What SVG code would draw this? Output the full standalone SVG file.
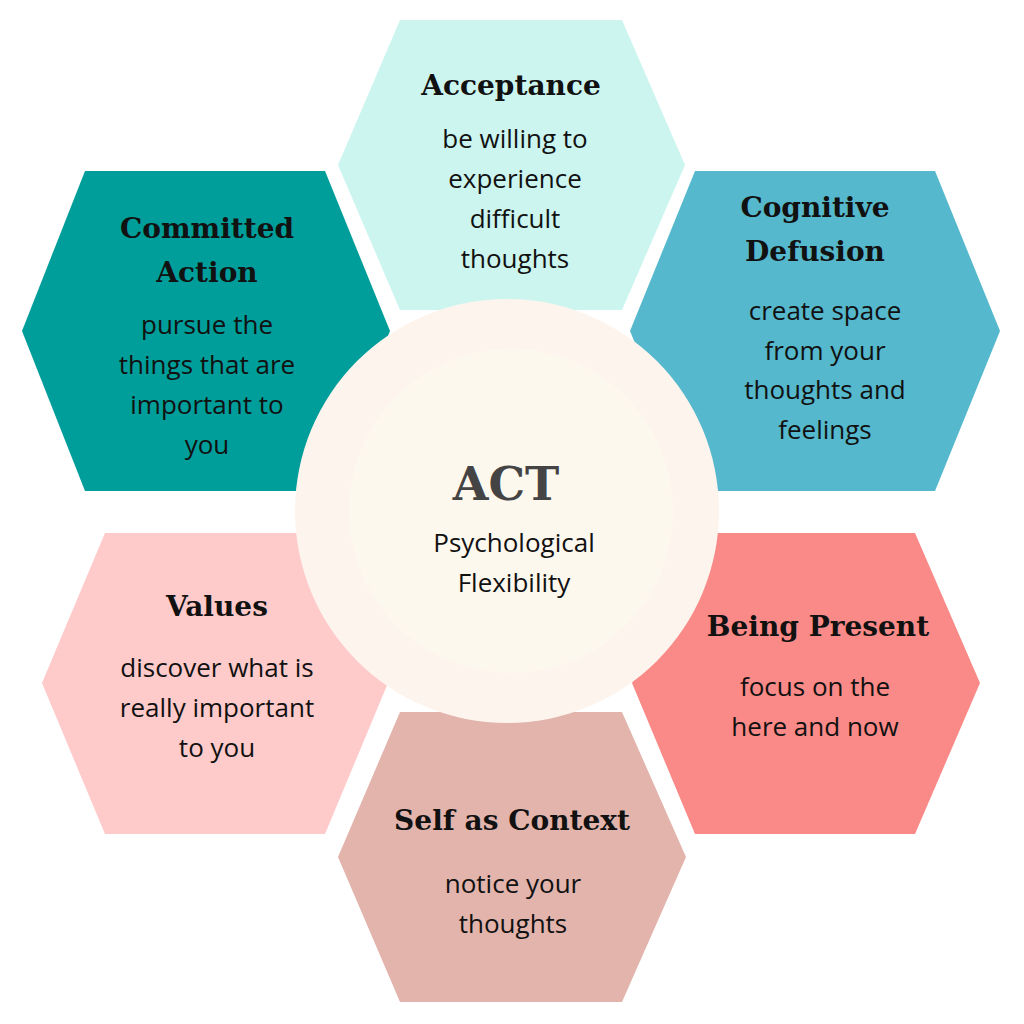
<svg xmlns="http://www.w3.org/2000/svg" width="1024" height="1024" viewBox="0 0 1024 1024">
<style>
.t{font-family:"DejaVu Serif","Liberation Serif",serif;font-weight:bold;font-size:28px;fill:#111;text-anchor:middle}
.b{font-family:"Open Sans","Noto Sans",sans-serif;font-size:26px;fill:#111;text-anchor:middle}
</style>
<rect width="1024" height="1024" fill="#fff"/>
<g id="acceptance"><polygon points="400,20 622,20 685,165 622,310 400,310 338,165" fill="#ccf5f0"/>
<text class="t" x="511" y="95">Acceptance</text>
<text class="b" x="515" y="148">be willing to</text><text class="b" x="515" y="188">experience</text><text class="b" x="515" y="228">difficult</text><text class="b" x="515" y="268">thoughts</text></g>
<g id="committed"><polygon points="85,171 325,171 390,331 325,491 85,491 22,331" fill="#009e9a"/>
<text class="t" x="207" y="238">Committed</text><text class="t" x="207" y="282">Action</text>
<text class="b" x="207" y="334">pursue the</text><text class="b" x="207" y="374">things that are</text><text class="b" x="207" y="414">important to</text><text class="b" x="207" y="454">you</text></g>
<g id="cognitive"><polygon points="695,171 935,171 1000,331 935,491 695,491 630,331" fill="#55b8cc"/>
<text class="t" x="815" y="217">Cognitive</text><text class="t" x="815" y="261">Defusion</text>
<text class="b" x="825" y="320">create space</text><text class="b" x="825" y="360">from your</text><text class="b" x="825" y="399">thoughts and</text><text class="b" x="825" y="439">feelings</text></g>
<g id="values"><polygon points="105,533 325,533 388,683 325,834 105,834 42,683" fill="#fecaca"/>
<text class="t" x="217" y="616">Values</text>
<text class="b" x="217" y="677">discover what is</text><text class="b" x="217" y="717">really important</text><text class="b" x="217" y="757">to you</text></g>
<g id="present"><polygon points="695,533 915,533 980,683 915,834 695,834 632,683" fill="#f98a87"/>
<text class="t" x="818" y="636">Being Present</text>
<text class="b" x="815" y="696">focus on the</text><text class="b" x="815" y="736">here and now</text></g>
<g id="self"><polygon points="400,712 622,712 686,857 622,1002 400,1002 338,857" fill="#e2b4ac"/>
<text class="t" x="512" y="830">Self as Context</text>
<text class="b" x="513" y="893">notice your</text><text class="b" x="513" y="933">thoughts</text></g>
<g id="center"><circle cx="507" cy="511" r="212" fill="#fdf4ee"/><circle cx="511" cy="511" r="162" fill="#fdf8ee"/>
<text class="t" x="506" y="500" style="font-size:46px;fill:#444">ACT</text>
<text class="b" x="514" y="552">Psychological</text><text class="b" x="514" y="592">Flexibility</text></g>
<g id="connectors"/>
</svg>
